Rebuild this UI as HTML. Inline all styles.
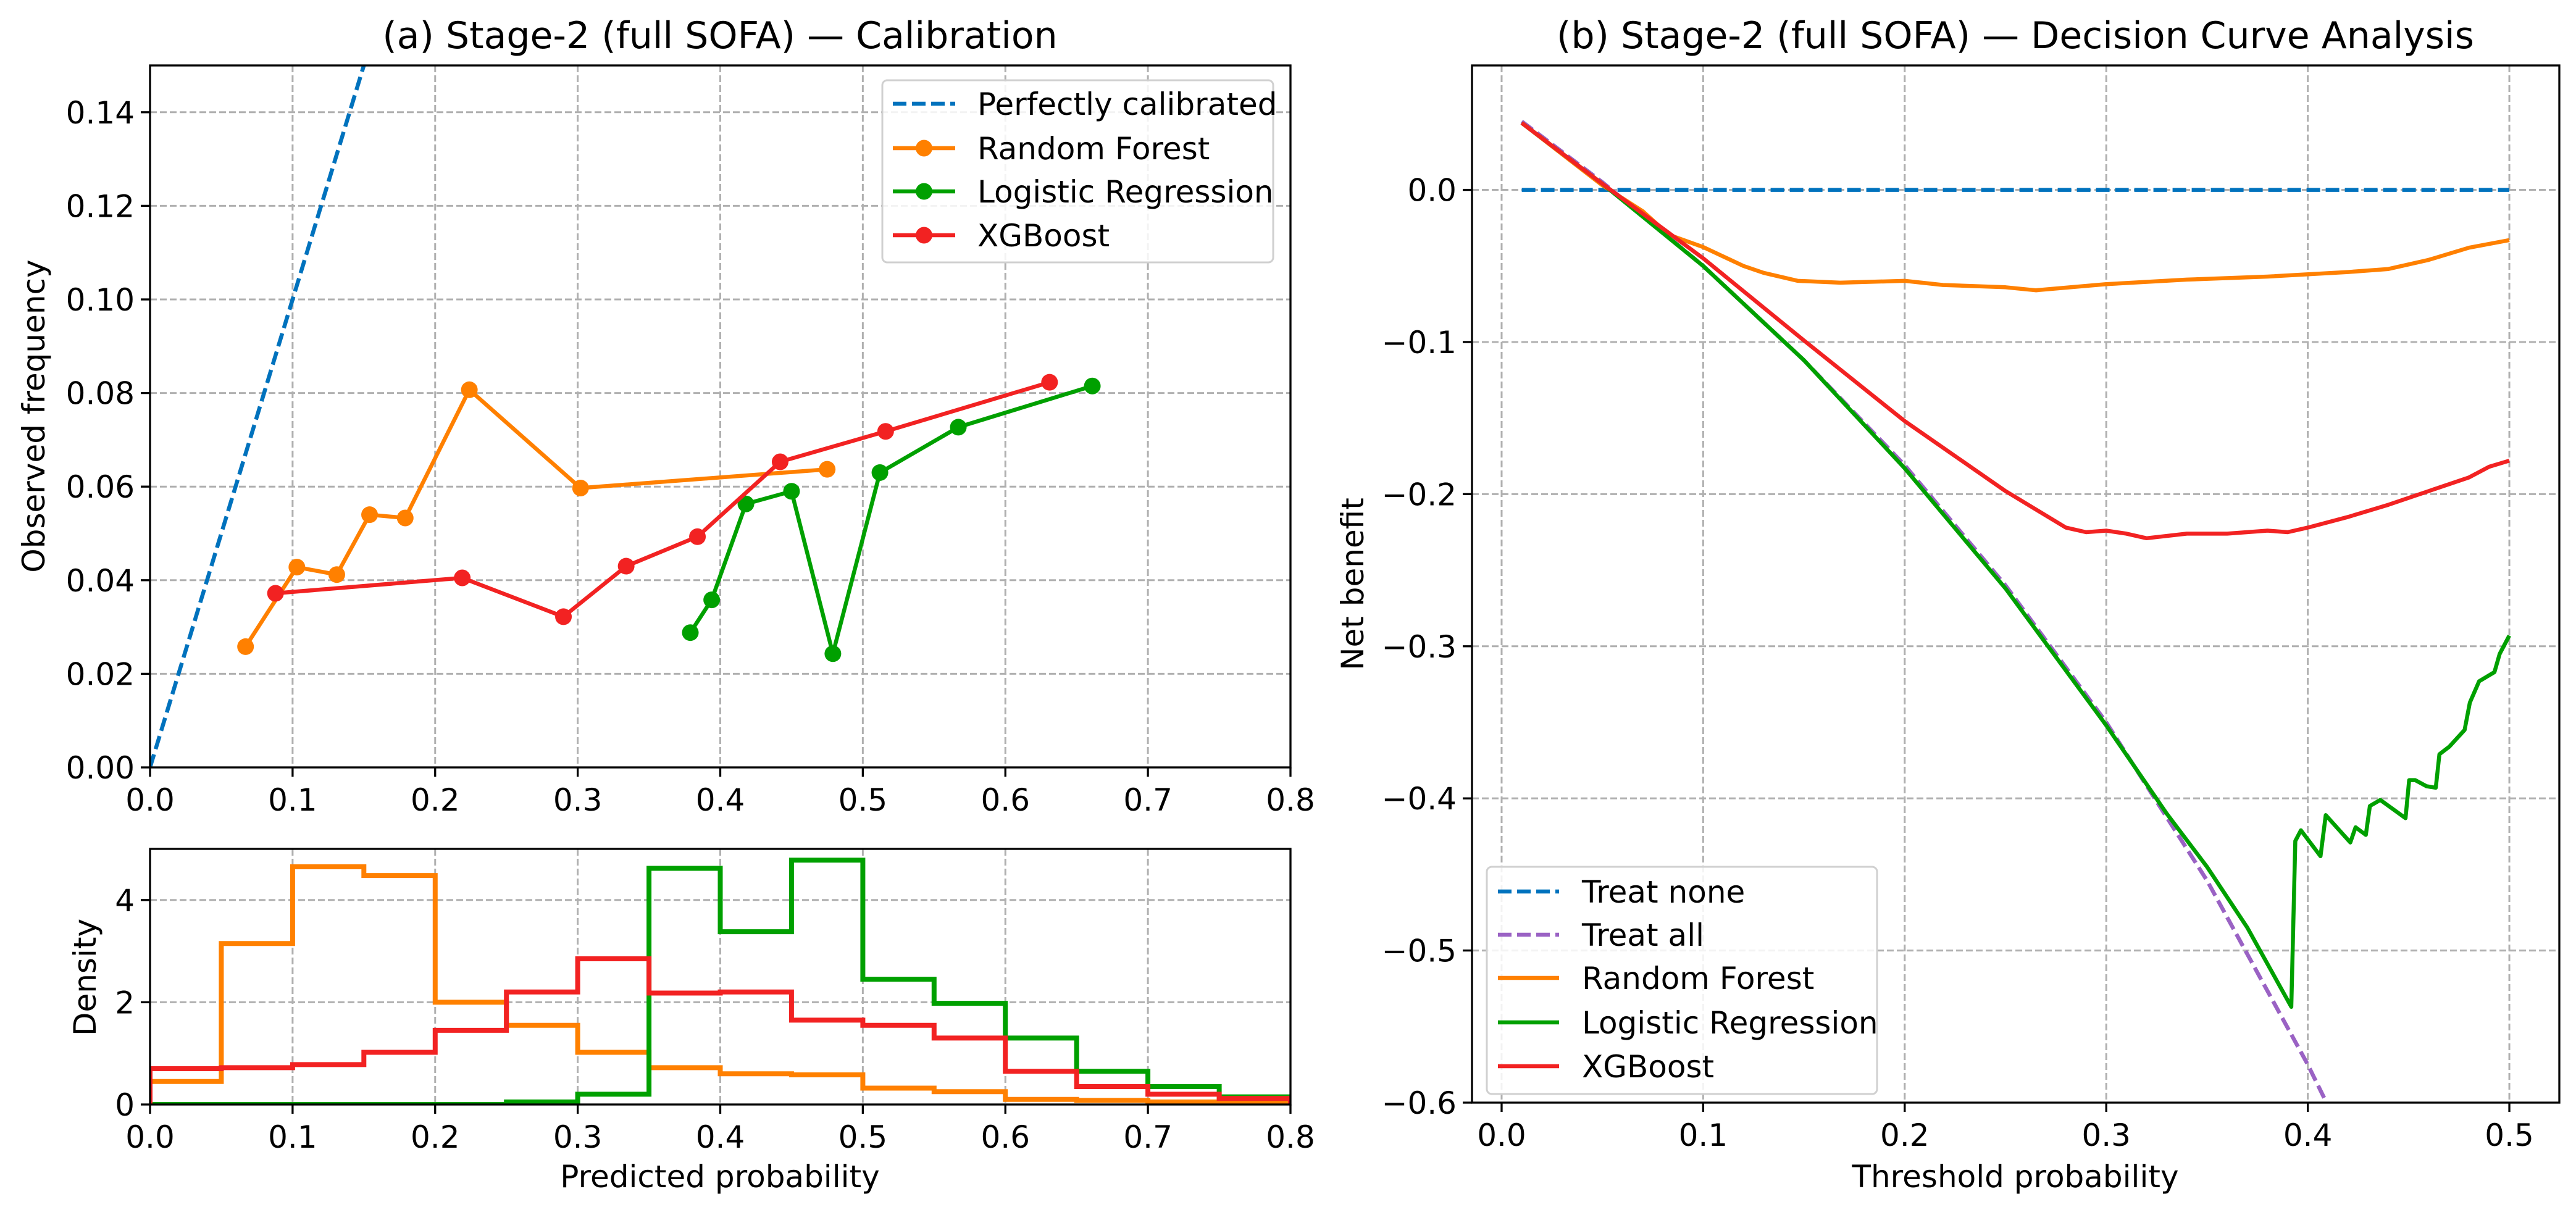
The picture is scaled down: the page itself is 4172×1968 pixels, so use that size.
<!DOCTYPE html>
<html><head><meta charset="utf-8"><style>
html,body{margin:0;padding:0;background:#fff;}
svg{display:block;font-family:"DejaVu Sans","Liberation Sans",sans-serif;}
</style></head><body>
<svg id="fig" width="4172" height="1968" viewBox="0 0 4172 1968" xmlns="http://www.w3.org/2000/svg"></svg>
<script>
// ---- Calibration data ----
const rfCalX=[0.067,0.103,0.131,0.154,0.179,0.224,0.302,0.475];
const rfCalY=[0.0258,0.0428,0.0412,0.0540,0.0533,0.0807,0.0597,0.0637];
const lrCalX=[0.379,0.394,0.418,0.450,0.479,0.512,0.567,0.661];
const lrCalY=[0.0288,0.0358,0.0563,0.0590,0.0243,0.0630,0.0727,0.0815];
const xgCalX=[0.088,0.219,0.290,0.334,0.384,0.442,0.516,0.631];
const xgCalY=[0.0372,0.0405,0.0322,0.0430,0.0493,0.0653,0.0718,0.0823];
const calXTicks=["0.0","0.1","0.2","0.3","0.4","0.5","0.6","0.7","0.8"];
const calYTicks=["0.00","0.02","0.04","0.06","0.08","0.10","0.12","0.14"];
// ---- Histogram data (bins of 0.05 from 0 to 0.8) ----
const binEdges=[0,0.05,0.1,0.15,0.2,0.25,0.3,0.35,0.4,0.45,0.5,0.55,0.6,0.65,0.7,0.75,0.8];
const rfHist=[0.45,3.15,4.65,4.48,2.0,1.55,1.02,0.72,0.6,0.58,0.32,0.25,0.1,0.08,0.05,0.03];
const lrHist=[0,0,0,0,0,0.05,0.2,4.62,3.38,4.78,2.45,1.98,1.3,0.65,0.35,0.15];
const xgHist=[0.7,0.72,0.78,1.02,1.45,2.2,2.85,2.18,2.2,1.65,1.55,1.3,0.65,0.35,0.2,0.12];
const histYTicks=["0","2","4"];
// ---- DCA data ----
const allT=[0.01,0.05,0.1,0.15,0.2,0.25,0.3,0.35,0.4,0.41];
const allNB=[0.045,0.005,-0.05,-0.112,-0.181,-0.26,-0.35,-0.454,-0.575,-0.602];
const rfT=[0.01,0.05,0.07,0.083,0.1,0.12,0.13,0.147,0.168,0.2,0.219,0.25,0.265,0.3,0.34,0.38,0.42,0.44,0.46,0.48,0.5];
const rfNB=[0.044,0.003,-0.014,-0.0295,-0.0376,-0.050,-0.0545,-0.0598,-0.061,-0.0598,-0.0625,-0.064,-0.066,-0.062,-0.059,-0.057,-0.054,-0.052,-0.046,-0.038,-0.033];
const xgT=[0.01,0.05,0.1,0.15,0.2,0.25,0.28,0.29,0.3,0.31,0.32,0.34,0.36,0.38,0.39,0.4,0.42,0.44,0.46,0.48,0.49,0.5];
const xgNB=[0.044,0.004,-0.045,-0.099,-0.152,-0.198,-0.222,-0.225,-0.224,-0.226,-0.229,-0.226,-0.226,-0.224,-0.225,-0.222,-0.215,-0.207,-0.198,-0.189,-0.182,-0.178];
const lrT=[0.01,0.05,0.1,0.15,0.2,0.25,0.3,0.33,0.35,0.37,0.3918,0.3938,0.3966,0.4063,0.4089,0.4211,0.4237,0.4288,0.4308,0.436,0.4485,0.4503,0.4533,0.4589,0.4635,0.4653,0.4702,0.4778,0.4804,0.485,0.4926,0.4952,0.5];
const lrNB=[0.044,0.004,-0.05,-0.112,-0.183,-0.262,-0.352,-0.41,-0.445,-0.485,-0.537,-0.428,-0.421,-0.438,-0.411,-0.429,-0.419,-0.424,-0.405,-0.401,-0.413,-0.388,-0.388,-0.392,-0.393,-0.371,-0.366,-0.355,-0.337,-0.323,-0.317,-0.305,-0.293];
const noneT=[0.01,0.5];
const noneNB=[0,0];
const dcaXTicks=["0.0","0.1","0.2","0.3","0.4","0.5"];
const dcaYTicks=["0.0","−0.1","−0.2","−0.3","−0.4","−0.5","−0.6"];

const C={blue:"#0072BD",orange:"#FF8000",green:"#00A000",red:"#F22222",purple:"#9A62C4"};
const NS="http://www.w3.org/2000/svg";
const svg=document.getElementById("fig");
function mk(tag,attrs,parent){const e=document.createElementNS(NS,tag);for(const k in attrs)e.setAttribute(k,attrs[k]);(parent||svg).appendChild(e);return e;}
function txt(s,attrs,parent){const e=mk("text",attrs,parent);e.textContent=s;return e;}

const A={l:243,r:2090,t:106,b:1243,x0:0,x1:0.8,y0:0,y1:0.15};
const H={l:243,r:2090,t:1375,b:1789,x0:0,x1:0.8,y0:0,y1:5};
const D={l:2384,r:4145,t:106,b:1786,x0:-0.0147,x1:0.5248,y0:-0.6,y1:0.0818};
function sx(ax,v){return ax.l+(v-ax.x0)/(ax.x1-ax.x0)*(ax.r-ax.l);}
function sy(ax,v){return ax.b-(v-ax.y0)/(ax.y1-ax.y0)*(ax.b-ax.t);}

function drawAxes(ax,name,xt,yt,showXLabels){
  const g=mk("g",{});
  
  
  const clip=mk("clipPath",{id:name+"-clip"},g);
  mk("rect",{x:ax.l,y:ax.t,width:ax.r-ax.l,height:ax.b-ax.t},clip);
  xt.forEach(s=>{const v=parseFloat(s);const x=sx(ax,v);
    const gl=mk("line",{x1:x,x2:x,y1:ax.t,y2:ax.b,stroke:"#b0b0b0","stroke-width":3,"stroke-dasharray":"11,5"},g);
    
    mk("line",{x1:x,x2:x,y1:ax.b,y2:ax.b+15,stroke:"#000","stroke-width":3.3},g);
    if(showXLabels){const t=txt(s,{x:x,y:ax.b+70,"font-size":50,"text-anchor":"middle",fill:"#000"},g);
      }
  });
  yt.forEach(s=>{const v=parseFloat(s.replace("−","-"));const y=sy(ax,v);
    const gl=mk("line",{x1:ax.l,x2:ax.r,y1:y,y2:y,stroke:"#b0b0b0","stroke-width":3,"stroke-dasharray":"11,5"},g);
    
    mk("line",{x1:ax.l-15,x2:ax.l,y1:y,y2:y,stroke:"#000","stroke-width":3.3},g);
    const t=txt(s,{x:ax.l-25,y:y+18,"font-size":50,"text-anchor":"end",fill:"#000"},g);
    
  });
  return g;
}
function frame(ax){const f=mk("rect",{x:ax.l,y:ax.t,width:ax.r-ax.l,height:ax.b-ax.t,fill:"none",stroke:"#000","stroke-width":3.3});
  }
function line(ax,xs,ys,color,name,opts){
  const pts=xs.map((x,i)=>sx(ax,x).toFixed(1)+","+sy(ax,ys[i]).toFixed(1)).join(" ");
  const p=mk("polyline",Object.assign({points:pts,fill:"none",stroke:color,"stroke-width":6.5,"stroke-linejoin":"round","clip-path":"url(#"+opts.clip+")"},opts.extra||{}));
  
  
  return p;
}
function markers(ax,xs,ys,color,name){
  xs.forEach((x,i)=>{const c=mk("circle",{cx:sx(ax,x),cy:sy(ax,ys[i]),r:13.5,fill:color});
    
    });
}
function hist(ax,vals,color,name){
  let d="M"+sx(ax,binEdges[0])+","+sy(ax,0);
  vals.forEach((v,i)=>{d+=" L"+sx(ax,binEdges[i]).toFixed(1)+","+sy(ax,v).toFixed(1)+" L"+sx(ax,binEdges[i+1]).toFixed(1)+","+sy(ax,v).toFixed(1);});
  d+=" L"+sx(ax,binEdges[binEdges.length-1]).toFixed(1)+","+sy(ax,0);
  const p=mk("path",{d:d,fill:"none",stroke:color,"stroke-width":8,"stroke-linejoin":"miter","clip-path":"url(#hist-clip)"});
  
  
}

drawAxes(A,"cal",calXTicks,calYTicks,true);
line(A,[0,0.15],[0,0.15],C.blue,"perfect-calibration-line",{clip:"cal-clip",extra:{"stroke-dasharray":"22,9"}});
line(A,rfCalX,rfCalY,C.orange,"rf-calibration-line",{clip:"cal-clip"});
markers(A,rfCalX,rfCalY,C.orange,"rf-calibration-point");
line(A,lrCalX,lrCalY,C.green,"lr-calibration-line",{clip:"cal-clip"});
markers(A,lrCalX,lrCalY,C.green,"lr-calibration-point");
line(A,xgCalX,xgCalY,C.red,"xgb-calibration-line",{clip:"cal-clip"});
markers(A,xgCalX,xgCalY,C.red,"xgb-calibration-point");
frame(A);

drawAxes(H,"hist",calXTicks,histYTicks,true);
hist(H,rfHist,C.orange,"rf-histogram");
hist(H,lrHist,C.green,"lr-histogram");
hist(H,xgHist,C.red,"xgb-histogram");
frame(H);

drawAxes(D,"dca",dcaXTicks,dcaYTicks,true);
line(D,noneT,noneNB,C.blue,"treat-none-line",{clip:"dca-clip",extra:{"stroke-dasharray":"22,9"}});
line(D,allT,allNB,C.purple,"treat-all-line",{clip:"dca-clip",extra:{"stroke-dasharray":"22,9"}});
line(D,rfT,rfNB,C.orange,"rf-dca-line",{clip:"dca-clip"});
line(D,lrT,lrNB,C.green,"lr-dca-line",{clip:"dca-clip"});
line(D,xgT,xgNB,C.red,"xgb-dca-line",{clip:"dca-clip"});
frame(D);

function legend(name,box,entries){
  const g=mk("g",{});
  
  
  mk("rect",{x:box.x,y:box.y,width:box.w,height:box.h,rx:8,fill:"#fff","fill-opacity":0.85,stroke:"#d0d0d0","stroke-width":3},g);
  entries.forEach(e=>{
    const eg=mk("g",{},g);
    
    
    const ln=mk("line",{x1:box.lx1,x2:box.lx2,y1:e.y,y2:e.y,stroke:e.c,"stroke-width":6.5},eg);
    if(e.dash)ln.setAttribute("stroke-dasharray","22,9");
    if(e.marker)mk("circle",{cx:(box.lx1+box.lx2)/2,cy:e.y,r:13.5,fill:e.c},eg);
    txt(e.t,{x:box.tx,y:e.y+18,"font-size":50,fill:"#000"},eg);
  });
}
legend("calibration-legend",{x:1429,y:130,w:633,h:295,lx1:1446,lx2:1547,tx:1583},[
  {t:"Perfectly calibrated",c:C.blue,dash:true,y:168},
  {t:"Random Forest",c:C.orange,marker:true,y:240},
  {t:"Logistic Regression",c:C.green,marker:true,y:310},
  {t:"XGBoost",c:C.red,marker:true,y:381}]);
legend("dca-legend",{x:2408,y:1404,w:632,h:368,lx1:2426,lx2:2525,tx:2562},[
  {t:"Treat none",c:C.blue,dash:true,y:1444},
  {t:"Treat all",c:C.purple,dash:true,y:1514},
  {t:"Random Forest",c:C.orange,y:1584},
  {t:"Logistic Regression",c:C.green,y:1656},
  {t:"XGBoost",c:C.red,y:1727}]);

function label(s,attrs,name){const t=txt(s,attrs);}
label("(a) Stage-2 (full SOFA) — Calibration",{x:1166,y:78,"font-size":60,"text-anchor":"middle"},"calibration-title");
label("(b) Stage-2 (full SOFA) — Decision Curve Analysis",{x:3264,y:78,"font-size":60,"text-anchor":"middle"},"dca-title");
label("Predicted probability",{x:1166,y:1923,"font-size":50,"text-anchor":"middle"},"hist-x-axis-title");
label("Threshold probability",{x:3264,y:1923,"font-size":50,"text-anchor":"middle"},"dca-x-axis-title");
label("Observed frequency",{x:0,y:0,"font-size":50,"text-anchor":"middle",transform:"translate(72,674) rotate(-90)"},"calibration-y-axis-title");
label("Density",{x:0,y:0,"font-size":50,"text-anchor":"middle",transform:"translate(155,1583) rotate(-90)"},"hist-y-axis-title");
label("Net benefit",{x:0,y:0,"font-size":50,"text-anchor":"middle",transform:"translate(2208,946) rotate(-90)"},"dca-y-axis-title");
</script>
</body></html>
